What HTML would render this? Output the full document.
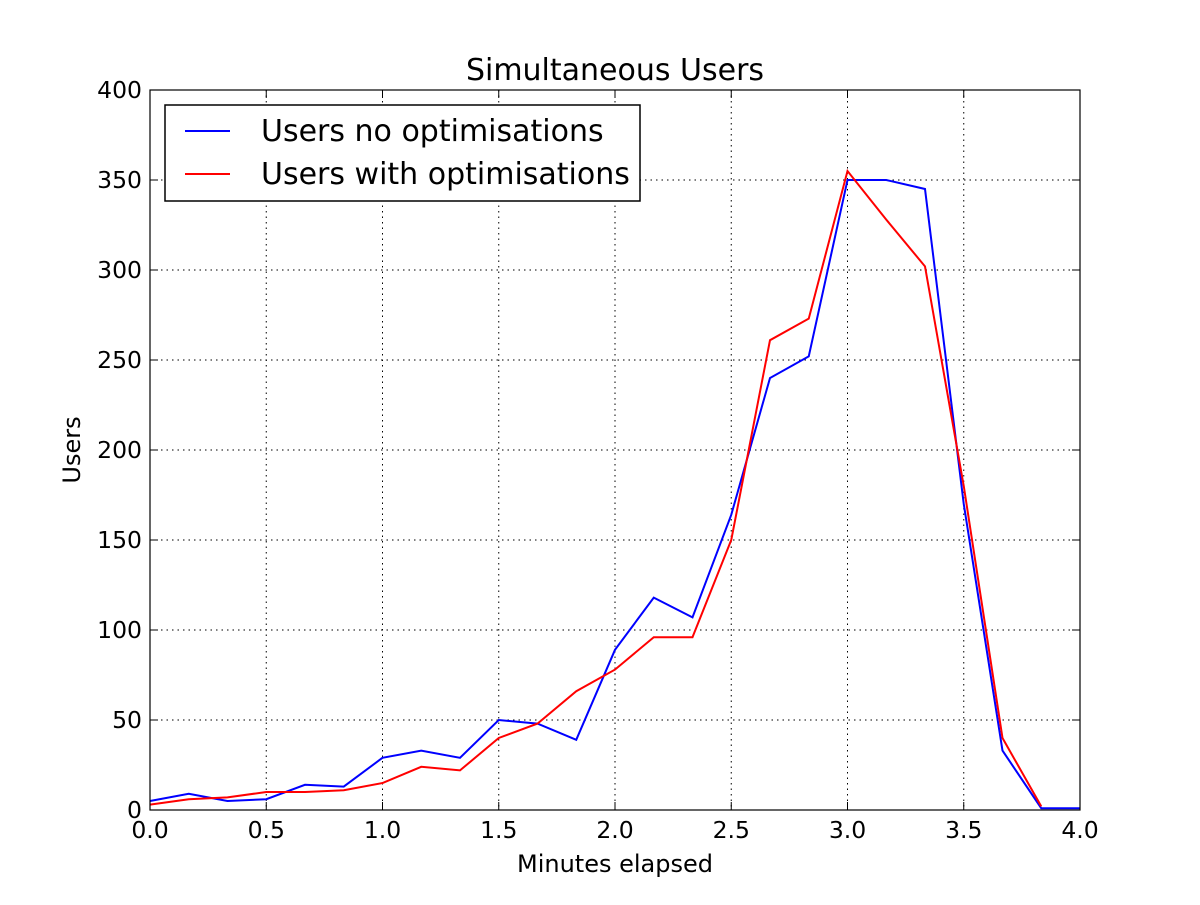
<!DOCTYPE html>
<html><head><meta charset="utf-8"><style>
body{margin:0;background:#fff}
svg text{font-family:"DejaVu Sans","Liberation Sans",sans-serif;fill:#000}
</style></head><body>
<svg id="chart" width="1200" height="900" xmlns="http://www.w3.org/2000/svg">
<rect width="1200" height="900" fill="#fff"/>
<g id="grid"></g>
<g id="series"></g>
<rect x="150" y="90" width="930" height="720" fill="none" stroke="#000" stroke-width="1.2"/>
<g id="ticks"></g>
<text x="615" y="80" font-size="30" text-anchor="middle">Simultaneous Users</text>
<text x="615" y="872" font-size="24" text-anchor="middle">Minutes elapsed</text>
<text x="80" y="450" font-size="24" text-anchor="middle" transform="rotate(-90 80 450)">Users</text>
<g>
<rect x="165" y="105" width="475" height="96" fill="#fff" stroke="#000" stroke-width="1.5"/>
<g><line x1="185" y1="131" x2="230" y2="131" stroke="#0000ff" stroke-width="2"/><text x="261" y="141" font-size="30">Users no optimisations</text></g>
<g><line x1="185" y1="174" x2="230" y2="174" stroke="#ff0000" stroke-width="2"/><text x="261" y="184" font-size="30">Users with optimisations</text></g>
</g>
</svg>
<script>
const xTicks=[0,0.5,1,1.5,2,2.5,3,3.5,4];
const xTickLabels=["0.0","0.5","1.0","1.5","2.0","2.5","3.0","3.5","4.0"];
const yTicks=[0,50,100,150,200,250,300,350,400];
const xValues=[0,1/6,2/6,3/6,4/6,5/6,1,7/6,8/6,9/6,10/6,11/6,2,13/6,14/6,15/6,16/6,17/6,3,19/6,20/6,21/6,22/6,23/6,4];
const usersNoOpt=[5,9,5,6,14,13,29,33,29,50,48,39,89,118,107,164,240,252,350,350,345,170,33,1,1];
const usersWithOpt=[3,6,7,10,10,11,15,24,22,40,48,66,78,96,96,150,261,273,355,328,302,180,40,2];
const X=v=>150+v*232.5, Y=v=>810-v*1.8;
const NS="http://www.w3.org/2000/svg";
const grid=document.getElementById('grid'),ticks=document.getElementById('ticks'),ser=document.getElementById('series');
function mk(tag,attrs,parent){const e=document.createElementNS(NS,tag);for(const k in attrs)e.setAttribute(k,attrs[k]);parent.appendChild(e);return e;}
xTicks.forEach((t,i)=>{const x=X(t);
 if(i>0&&i<xTicks.length-1){const g=mk('line',{x1:x,x2:x,y1:90,y2:810,stroke:'#000','stroke-dasharray':'1.5,4'},grid);
 
 }
 mk('line',{x1:x,x2:x,y1:810,y2:802,stroke:'#000'},ticks);mk('line',{x1:x,x2:x,y1:90,y2:98,stroke:'#000'},ticks);
 const tx=mk('text',{x:x,y:838,'font-size':23.5,'text-anchor':'middle'},ticks);tx.textContent=xTickLabels[i];
 
 });
yTicks.forEach((t,i)=>{const y=Y(t);
 if(i>0&&i<yTicks.length-1){const g=mk('line',{x1:150,x2:1080,y1:y,y2:y,stroke:'#000','stroke-dasharray':'1.5,4'},grid);
 
 }
 mk('line',{x1:150,x2:158,y1:y,y2:y,stroke:'#000'},ticks);mk('line',{x1:1072,x2:1080,y1:y,y2:y,stroke:'#000'},ticks);
 const tx=mk('text',{x:142,y:y+8,'font-size':23.5,'text-anchor':'end'},ticks);tx.textContent=String(t);
 
 });
function line(vals,color,name){const pts=vals.map((v,i)=>X(xValues[i])+','+Y(v)).join(' ');
 const p=mk('polyline',{points:pts,fill:'none',stroke:color,'stroke-width':2},ser);
 
 }
line(usersNoOpt,'#0000ff','line-users-no-optimisations');
line(usersWithOpt,'#ff0000','line-users-with-optimisations');
</script>
</body></html>
